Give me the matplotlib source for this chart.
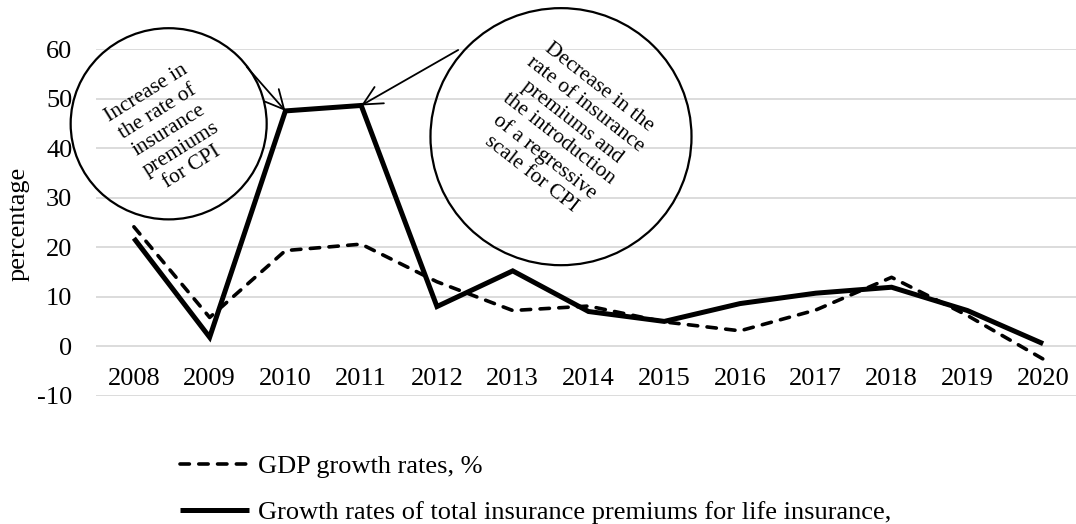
import matplotlib
matplotlib.use("Agg")
import matplotlib.pyplot as plt
from matplotlib.patches import Ellipse

plt.rcParams['font.family'] = ['Liberation Serif', 'DejaVu Serif']
plt.rcParams['axes.unicode_minus'] = False

years = ['2008', '2009', '2010', '2011', '2012', '2013', '2014',
         '2015', '2016', '2017', '2018', '2019', '2020']
gdp_growth = [24.1, 5.8, 19.3, 20.6, 13.0, 7.2, 8.1, 4.9, 3.1, 7.3, 13.9, 6.2, -2.6]
premium_growth = [21.8, 1.8, 47.5, 48.6, 8.0, 15.2, 7.0, 5.0, 8.6, 10.7, 11.9, 7.2, 0.5]

gdp_label = 'GDP growth rates, %'
premium_label = 'Growth rates of total insurance premiums for life insurance,'
note_increase = 'Increase in\nthe rate of\ninsurance\npremiums\nfor CPI'
note_decrease = ('Decrease in the\nrate of insurance\npremiums and\nthe introduction\n'
                 'of a regressive\nscale for CPI')

W, H, DPI = 1076, 524, 100
fig = plt.figure(figsize=(W / DPI, H / DPI), dpi=DPI)
ax = fig.add_axes([96 / W, 128.3 / H, 985 / W, 346.7 / H])

x = list(range(len(years)))
ax.plot(x, gdp_growth, color='black', lw=2.6, linestyle=(0, (2.6, 2.6)),
        dash_capstyle='round', label=gdp_label, zorder=3)
ax.plot(x, premium_growth, color='black', lw=3.6, solid_joinstyle='miter',
        solid_capstyle='butt', label=premium_label, zorder=4)

ax.set_xlim(-0.5, len(years) - 0.5)
ax.set_ylim(-10, 60)
ax.set_yticks(range(-10, 61, 10))
ax.set_xticks(x)
ax.set_xticklabels(years)
ax.grid(axis='y', color='#d9d9d9', lw=1.3)
ax.set_axisbelow(True)
for side in ['left', 'right', 'top']:
    ax.spines[side].set_visible(False)
ax.spines['bottom'].set_position(('data', 0))
ax.spines['bottom'].set_visible(False)
ax.tick_params(axis='both', length=0, labelsize=19)
ax.tick_params(axis='y', pad=17)
ax.tick_params(axis='x', pad=16)

ax.set_ylabel('percentage', fontsize=19, va='center')
ax.yaxis.set_label_coords(-0.079, 0.497)

# callout bubbles with their notes
ax.add_patch(Ellipse((0.459, 44.9), 2.587, 38.6, fill=False, ec='black',
                     lw=1.6, clip_on=False, zorder=5))
ax.add_patch(Ellipse((5.637, 42.3), 3.445, 51.9, fill=False, ec='black',
                     lw=1.6, clip_on=False, zorder=5))
ax.text(0.465, 43.6, note_increase, rotation=32, ha='center', va='center',
        multialignment='center', fontsize=15.5, rotation_mode='anchor',
        zorder=6, clip_on=False)
ax.text(5.69, 43.5, note_decrease, rotation=-38, ha='center', va='center',
        multialignment='center', fontsize=15.5, rotation_mode='anchor',
        zorder=6, clip_on=False)

arrow = dict(arrowstyle='->,head_length=0.9,head_width=0.45', color='black',
             lw=1.3, shrinkA=0, shrinkB=0, mutation_scale=15)
ax.annotate('', xy=(2, premium_growth[2]), xytext=(1.489, 56.4),
            arrowprops=arrow, annotation_clip=False, zorder=6)
ax.annotate('', xy=(3, premium_growth[3]), xytext=(4.28, 59.8),
            arrowprops=arrow, annotation_clip=False, zorder=6)

fig.legend(loc='upper left', bbox_to_anchor=(180 / W, 1 - 455 / H),
           frameon=False, fontsize=19, handlelength=2.6, handletextpad=0.35,
           labelspacing=0.83, borderpad=0, borderaxespad=0)

fig.savefig('out.png', dpi=DPI)
